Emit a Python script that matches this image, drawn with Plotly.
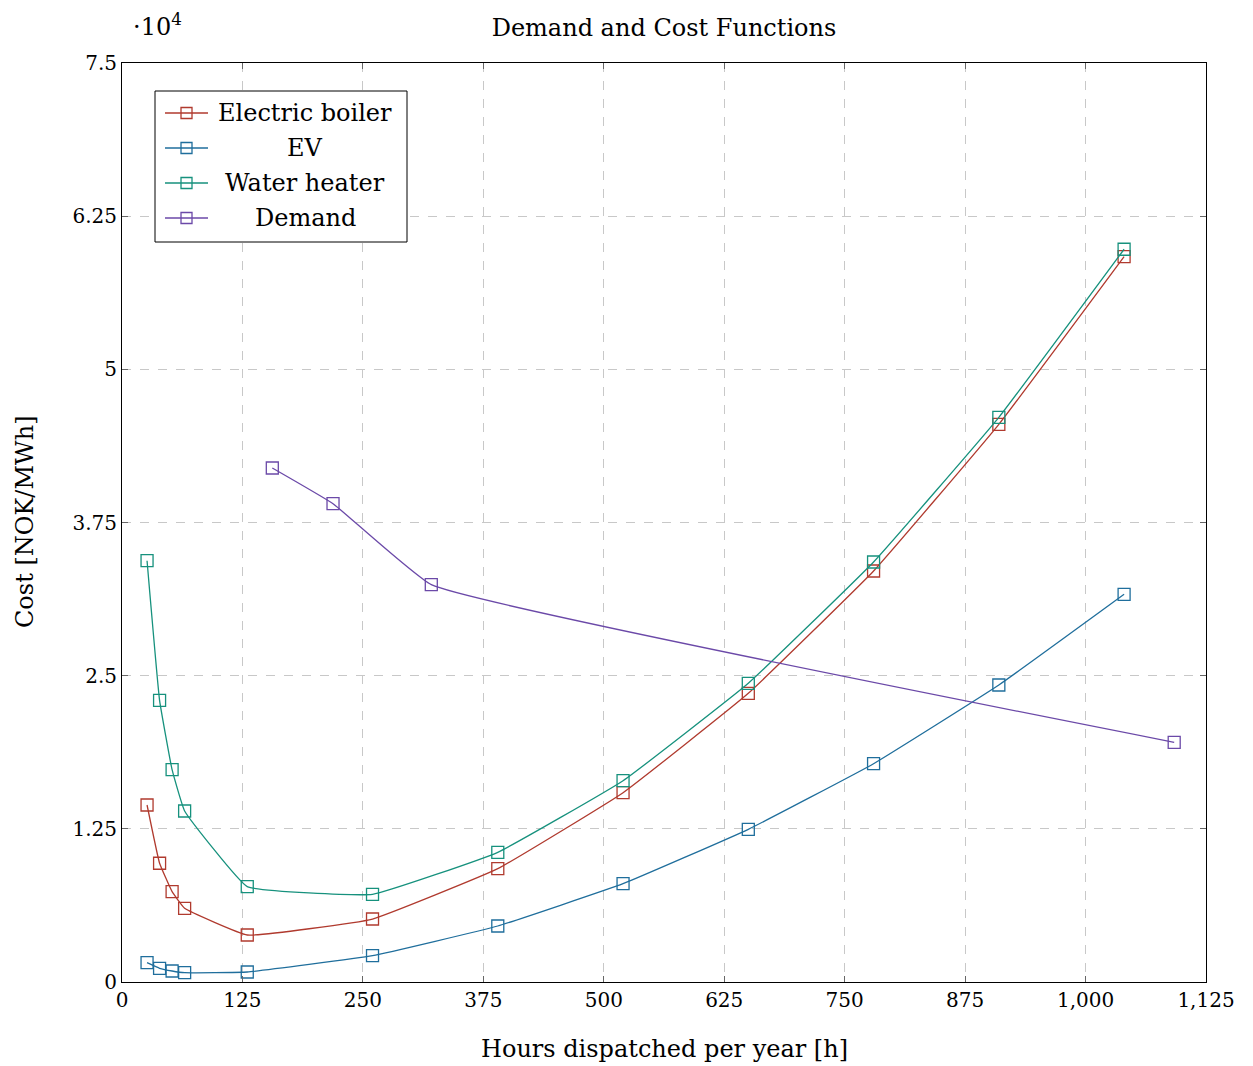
import plotly.graph_objects as go

hours = [26, 39, 52, 65, 130, 260, 390, 520, 650, 780, 910, 1040]
electric_boiler = [14445, 9690, 7370, 6015, 3836, 5141, 9247, 15449, 23561, 33542, 45514, 59200]
ev = [1575, 1118, 898, 759, 816, 2146, 4570, 8022, 12462, 17816, 24238, 31640]
water_heater = [34383, 22990, 17326, 13955, 7785, 7157, 10585, 16428, 24377, 34276, 46085, 59800]
demand_hours = [156, 219, 321, 1092]
demand = [41948, 39035, 32424, 19562]

x_ticks = [0, 125, 250, 375, 500, 625, 750, 875, 1000, 1125]
x_tick_labels = ["0", "125", "250", "375", "500", "625", "750", "875", "1,000", "1,125"]
y_ticks = [0, 12500, 25000, 37500, 50000, 62500, 75000]
y_tick_labels = ["0", "1.25", "2.5", "3.75", "5", "6.25", "7.5"]

FONT = "DejaVu Serif"
series = [
    ("Electric boiler", hours, electric_boiler, "#B03A2E"),
    ("EV", hours, ev, "#1F6E9C"),
    ("Water heater", hours, water_heater, "#16917D"),
    ("Demand", demand_hours, demand, "#6B49A8"),
]

W, H = 1253, 1066
L, R, T, B = 122, 47, 63, 84
PW, PH = W - L - R, H - T - B


def px(x):
    return (x - L) / PW


def py(y):
    return (H - B - y) / PH


fig = go.Figure()
for name, xs, ys, col in series:
    fig.add_trace(go.Scatter(
        x=xs, y=ys, name=name, mode="lines+markers", showlegend=False,
        line=dict(color=col, width=1.3, shape="spline", smoothing=0.3),
        marker=dict(symbol="square-open", size=12, color=col, line=dict(width=1.3, color=col)),
    ))

axis_common = dict(
    showline=True, linecolor="black", linewidth=1, mirror="ticks",
    ticks="inside", ticklen=6, tickcolor="#666", tickwidth=1,
    showgrid=True, gridcolor="#c8c8c8", griddash="dash", gridwidth=1,
    zeroline=False, automargin=False,
    tickfont=dict(family=FONT, size=20, color="black"),
)

fig.update_layout(
    width=W, height=H,
    margin=dict(l=L, r=R, t=T, b=B, autoexpand=False),
    paper_bgcolor="white", plot_bgcolor="white",
    font=dict(family=FONT, size=20, color="black"),
    title=dict(text="Demand and Cost Functions", x=(664 / W), xanchor="center",
               y=1 - 28 / H, yanchor="middle", font=dict(family=FONT, size=24)),
    xaxis=dict(range=[0, 1125], tickvals=x_ticks, ticktext=x_tick_labels, **axis_common),
    yaxis=dict(range=[0, 75000], tickvals=y_ticks, ticktext=y_tick_labels, **axis_common),
    showlegend=False,
)

# axis titles
fig.add_annotation(text="Hours dispatched per year [h]", xref="paper", yref="paper",
                   x=px(664), y=py(1049), xanchor="center", yanchor="middle",
                   showarrow=False, font=dict(family=FONT, size=24))
fig.add_annotation(text="Cost [NOK/MWh]", xref="paper", yref="paper",
                   x=px(25), y=py(522), xanchor="center", yanchor="middle", textangle=-90,
                   showarrow=False, font=dict(family=FONT, size=24))

# legend box (drawn manually to centre the entry texts as in the reference)
fig.add_shape(type="rect", xref="paper", yref="paper",
              x0=px(155), x1=px(407), y0=py(242), y1=py(91),
              line=dict(color="black", width=1), fillcolor="white", layer="above")
row_y = [113, 148, 183, 218]
for (name, _, _, col), ry in zip(series, row_y):
    fig.add_shape(type="line", xref="paper", yref="paper",
                  x0=px(165), x1=px(208), y0=py(ry), y1=py(ry),
                  line=dict(color=col, width=1.3), layer="above")
    fig.add_shape(type="rect", xref="paper", yref="paper",
                  x0=px(181), x1=px(192), y0=py(ry + 5.5), y1=py(ry - 5.5),
                  line=dict(color=col, width=1.3), fillcolor="rgba(0,0,0,0)", layer="above")
    fig.add_annotation(text=name, xref="paper", yref="paper",
                       x=px(305), y=py(ry), xanchor="center", yanchor="middle",
                       showarrow=False, font=dict(family=FONT, size=24))

fig.add_annotation(text="·10<sup>4</sup>", xref="paper", yref="paper",
                   x=px(131), y=py(25), xanchor="left", yanchor="middle",
                   showarrow=False, font=dict(family=FONT, size=24))

fig.write_html("out.html")
